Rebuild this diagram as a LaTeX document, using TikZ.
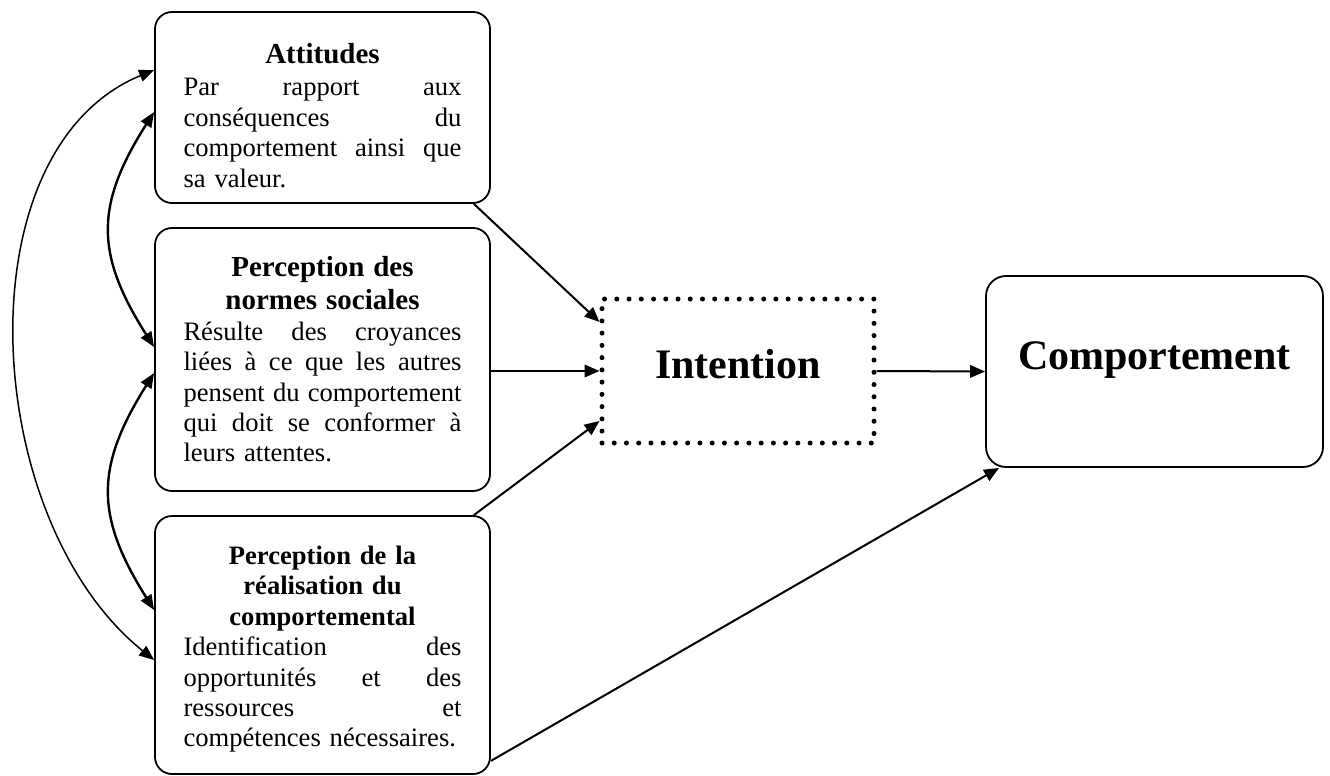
\documentclass[tikz,border=0pt]{standalone}
\usepackage{fontspec}
\setmainfont{Liberation Serif}
\usetikzlibrary{arrows.meta}
% width of the justified body text inside the three left cards
\newlength\bodyw
\setlength\bodyw{278pt}
% a justified line (font's own stretchable interword space) and a ragged last line
\newcommand\bodyline[1]{\makebox[\bodyw][s]{\spaceskip=0pt\xspaceskip=0pt #1}}
\newcommand\bodylast[1]{\makebox[\bodyw][l]{#1}}
\newcommand\cardtitle[1]{{\fontsize{29}{33}\selectfont\bfseries #1}}
\begin{document}
\begin{tikzpicture}[x=1pt,y=1pt,
  card/.style={draw, line width=1.8pt, rounded corners=17pt, minimum width=335pt,
    text width=278pt, inner xsep=28.5pt, inner ysep=0pt, align=center,
    font=\fontsize{26.6}{30.4}\selectfont},
  bigbox/.style={draw, line width=1.8pt, rounded corners=20pt, inner sep=0pt,
    font=\fontsize{42}{48}\selectfont\bfseries},
  dotbox/.style={draw, line width=5pt, line cap=round, dash pattern=on 0pt off 12.24pt,
    inner sep=0pt, font=\fontsize{42}{48}\selectfont\bfseries},
  link/.style={line width=2pt, -{Triangle[length=15pt,width=12.5pt]}},
  tie/.style={line width=2.4pt, {Triangle[length=15pt,width=12pt]}-{Triangle[length=15pt,width=12pt]}},
  farTie/.style={line width=1.5pt, {Triangle[length=15pt,width=12pt]}-{Triangle[length=15pt,width=12pt]}},
]
\useasboundingbox (0,0) rectangle (1330,-776);

% the three determinants (the struts set the gap above each title)
\node[card, minimum height=191pt] (A) at (322.5,-107.5) {%
  \rule{0pt}{36pt}\cardtitle{Attitudes}\\[2pt]
  \bodyline{Par rapport aux}\\
  \bodyline{conséquences du}\\
  \bodyline{comportement ainsi que}\\
  \bodylast{sa valeur.}};

\node[card, minimum height=263pt] (N) at (322.5,-359.5) {%
  \cardtitle{Perception des}\\[2.6pt]
  \cardtitle{normes sociales}\\
  \bodyline{Résulte des croyances}\\
  \bodyline{liées à ce que les autres}\\
  \bodyline{pensent du comportement}\\
  \bodyline{qui doit se conformer à}\\
  \bodylast{leurs attentes.}};

\node[card, minimum height=258pt] (R) at (322.5,-645) {%
  \rule{0pt}{27pt}{\bfseries Perception de la}\\
  {\bfseries réalisation du}\\
  {\bfseries comportemental}\\
  \bodyline{Identification des}\\
  \bodyline{opportunités et des}\\
  \bodyline{ressources et}\\
  \bodylast{compétences nécessaires.}};

% intention and behaviour
\node[dotbox, minimum width=272pt, minimum height=144pt, text depth=14pt] (I) at (738,-371) {Intention};
\node[bigbox, minimum width=337pt, minimum height=191pt, text depth=31pt] (C) at (1154.5,-371.5) {Comportement};

% direct effects
\draw[link] ([xshift=-17pt]A.south east) -- ([yshift=49pt]I.west);
\draw[link] (N.east |- I.west) -- (I.west);
\draw[link] ([xshift=-17pt]R.north east) -- ([yshift=-50pt]I.west);
\draw[link] (I.east) -- (C.west);
\draw[link] ([yshift=14pt]R.south east) -- ([xshift=14pt]C.south west);

% correlations between determinants
\draw[tie] ([yshift=-4.5pt]A.west) .. controls (95,-205) and (95,-254) .. ([yshift=12.5pt]N.west);
\draw[tie] ([yshift=-13.5pt]N.west) .. controls (95,-467) and (95,-516) .. ([yshift=35pt]R.west);
\draw[farTie] ([yshift=37.5pt]A.west) .. controls (-40,-150) and (-20,-520) .. ([yshift=-15pt]R.west);
\end{tikzpicture}
\end{document}
